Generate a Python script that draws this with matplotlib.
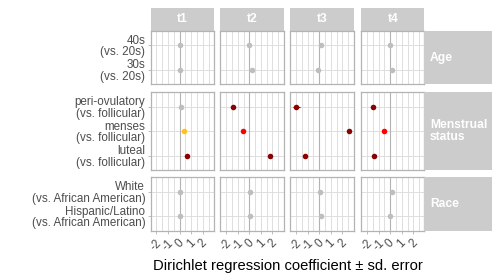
import numpy as np
import matplotlib
matplotlib.use("Agg")
import matplotlib.pyplot as plt

plt.rcParams['font.family'] = ['Liberation Sans', 'DejaVu Sans']
plt.rcParams['axes.unicode_minus'] = False

GREY = '#BEBEBE'
GOLD = '#FFC125'
RED = '#FF0000'
DARK = '#8B0000'

times = ['t1', 't2', 't3', 't4']
groups = ['Age', 'Menstrual\nstatus', 'Race']

# labels listed bottom -> top
age_labels = ['30s\n(vs. 20s)', '40s\n(vs. 20s)']
age_coef = [[0.0, 0.0], [0.2, 0.0], [-0.14, 0.12], [0.2, 0.03]]
age_err = [[0.05, 0.05], [0.12, 0.05], [0.08, 0.05], [0.12, 0.05]]
age_col = [[GREY, GREY], [GREY, GREY], [GREY, GREY], [GREY, GREY]]

mens_labels = ['luteal\n(vs. follicular)', 'menses\n(vs. follicular)',
               'peri-ovulatory\n(vs. follicular)']
mens_coef = [[0.6, 0.35, 0.15], [1.77, -0.57, -1.44],
             [-1.27, 2.56, -1.97], [-1.36, -0.57, -1.44]]
mens_err = [[0.06, 0.06, 0.06], [0.08, 0.1, 0.08],
            [0.1, 0.15, 0.28], [0.08, 0.12, 0.1]]
mens_col = [[DARK, GOLD, GREY], [DARK, RED, DARK],
            [DARK, DARK, DARK], [DARK, RED, DARK]]

race_labels = ['Hispanic/Latino\n(vs. African American)',
               'White\n(vs. African American)']
race_coef = [[0.0, 0.0], [0.03, 0.03], [0.12, 0.03], [0.03, 0.12]]
race_err = [[0.05, 0.05], [0.05, 0.05], [0.05, 0.05], [0.05, 0.05]]
race_col = [[GREY, GREY], [GREY, GREY], [GREY, GREY], [GREY, GREY]]

rows = [
    (age_labels, age_coef, age_err, age_col),
    (mens_labels, mens_coef, mens_err, mens_col),
    (race_labels, race_coef, race_err, race_col),
]

xticks = [-2, -1, 0, 1, 2]

W, H = 500, 280
fig = plt.figure(figsize=(W / 100, H / 100), dpi=100)


def box(left, top, w, h):
    return [left / W, 1 - (top + h) / H, w / W, h / H]


col_left = [150.7, 220.4, 290.3, 361.2]
col_w = 63.2
row_top = [30.7, 92.3, 177.0]
row_h = [53.6, 78.0, 54.0]
strip_h = 23.0
rstrip_w = 67.4

for j, t in enumerate(times):
    sax = fig.add_axes(box(col_left[j], row_top[0] - strip_h, col_w, strip_h))
    sax.set_facecolor('#CCCCCC')
    sax.set_xticks([])
    sax.set_yticks([])
    for s in sax.spines.values():
        s.set_visible(False)
    sax.text(0.5, 0.5, t, ha='center', va='center', color='white',
             fontsize=8.7, fontweight='bold', transform=sax.transAxes)

for i, (labels, coef, err, col) in enumerate(rows):
    n = len(labels)
    ypos = np.arange(1, n + 1)
    for j in range(len(times)):
        ax = fig.add_axes(box(col_left[j], row_top[i], col_w, row_h[i]))
        ax.set_xlim(-2.5, 2.96)
        ax.set_ylim(0.4, n + 0.6)
        ax.set_xticks(xticks)
        ax.set_xticks(np.arange(-2.5, 3.0, 0.5), minor=True)
        ax.set_yticks(ypos)
        ax.grid(True, which='major', color='#DEDEDE', lw=0.7)
        ax.grid(True, which='minor', axis='x', color='#DEDEDE', lw=0.7)
        ax.set_axisbelow(True)
        ax.axvline(0, color='#B3B3B3', lw=0.8, zorder=1)
        for s in ax.spines.values():
            s.set_color('#B3B3B3')
            s.set_linewidth(0.9)
        for k in range(n):
            ax.errorbar(coef[j][k], ypos[k], xerr=err[j][k], fmt='o',
                        color=col[j][k], ms=4, mew=0, elinewidth=0.8,
                        capsize=0, zorder=3)
        ax.tick_params(which='both', length=0, colors='#B3B3B3')
        ax.tick_params(which='major', length=2.5, width=0.6)
        if j == 0:
            ax.set_yticklabels(labels, fontsize=8.4, color='#4D4D4D',
                               linespacing=0.95)
            ax.tick_params(axis='y', pad=1.5)
        else:
            ax.tick_params(axis='y', length=0, labelleft=False)
        if i == len(rows) - 1:
            ax.set_xticklabels(xticks, fontsize=8.4, color='#4D4D4D',
                               rotation=45, ha='center', va='top')
            ax.tick_params(axis='x', pad=2)
        else:
            ax.tick_params(axis='x', length=0, labelbottom=False)

    rax = fig.add_axes(box(col_left[-1] + col_w, row_top[i], rstrip_w, row_h[i]))
    rax.set_facecolor('#CCCCCC')
    rax.set_xticks([])
    rax.set_yticks([])
    for s in rax.spines.values():
        s.set_visible(False)
    rax.text(0.08, 0.5, groups[i], ha='left', va='center', color='white',
             fontsize=8.7, fontweight='bold', linespacing=1.0,
             transform=rax.transAxes)

fig.text((col_left[0] + col_left[-1] + col_w) / 2 / W, 1 - 266 / H,
         'Dirichlet regression coefficient \u00b1 sd. error',
         ha='center', va='center', fontsize=10.6, color='black')

fig.savefig('out.png', dpi=100)
